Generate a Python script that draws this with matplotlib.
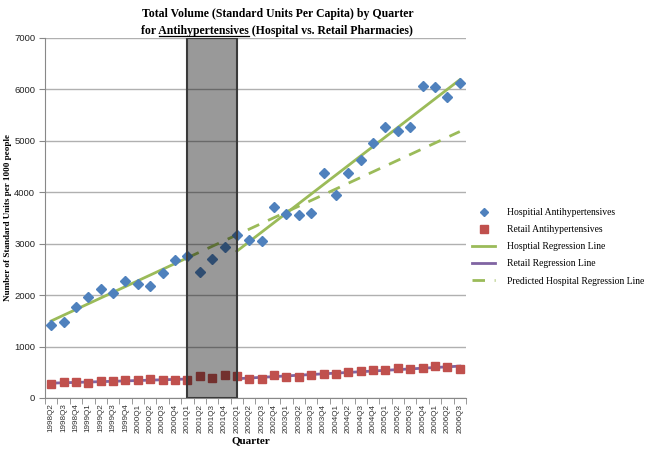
import matplotlib
matplotlib.use("Agg")
import matplotlib.pyplot as plt
from matplotlib.patches import Rectangle
from matplotlib.lines import Line2D
import numpy as np

quarters = ["1998Q2", "1998Q3", "1998Q4",
            "1999Q1", "1999Q2", "1999Q3", "1999Q4",
            "2000Q1", "2000Q2", "2000Q3", "2000Q4",
            "2001Q1", "2001Q2", "2001Q3", "2001Q4",
            "2002Q1", "2002Q2", "2002Q3", "2002Q4",
            "2003Q1", "2003Q2", "2003Q3", "2003Q4",
            "2004Q1", "2004Q2", "2004Q3", "2004Q4",
            "2005Q1", "2005Q2", "2005Q3", "2005Q4",
            "2006Q1", "2006Q2", "2006Q3"]

hospital = [1413, 1477, 1774, 1961, 2116, 2039, 2271, 2226, 2187, 2432, 2684,
            2755, 2445, 2710, 2929,
            3174, 3077, 3058, 3723, 3581, 3567, 3600, 4375, 3955, 4375, 4634,
            4964, 5268, 5196, 5268, 6069, 6043, 5856, 6121]

retail = [265, 303, 316, 284, 335, 323, 348, 355, 368, 342, 348,
          355, 426, 394, 452,
          426, 361, 374, 445, 406, 410, 450, 460, 467, 499, 525,
          551, 544, 590, 570, 583, 616, 603, 564]

# index in quarters: letzter Wert vor / erster Wert nach dem Kasten
pre_end = 11      # 2001Q1
post_start = 15   # 2002Q1

blue = "#4F81BD"
red = "#C0504D"
green = "#9BBB59"
purple = "#8064A2"

x = np.arange(len(quarters))
hosp = np.array(hospital)
ret = np.array(retail)

fig = plt.figure(figsize=(6.48, 4.5), dpi=100)
ax = fig.add_axes([0.0694, 0.1156, 0.6497, 0.80])

# Regressionen
xp = x[:pre_end + 1]
xq = x[post_start:]
hp = np.polyfit(xp, hosp[:pre_end + 1], 1)
hq = np.polyfit(xq, hosp[post_start:], 1)
rp = np.polyfit(xp, ret[:pre_end + 1], 1)
rq = np.polyfit(xq, ret[post_start:], 1)
xpred = x[pre_end:]

ax.plot(xpred, np.polyval(hp, xpred), color=green, lw=2, ls=(0, (4.5, 3.5)), zorder=3)
ax.plot(xp, np.polyval(hp, xp), color=green, lw=2, zorder=3)
ax.plot(xq, np.polyval(hq, xq), color=green, lw=2, zorder=3)
ax.plot(xp, np.polyval(rp, xp), color=purple, lw=2, zorder=3)
ax.plot(xq, np.polyval(rq, xq), color=purple, lw=2, zorder=3)

ax.plot(x, hosp, ls="none", marker="D", ms=5.2, color=blue, mec=blue, zorder=4)
ax.plot(x, ret, ls="none", marker="s", ms=6.2, color=red, mec=red, zorder=4)

# grauer Kasten
ax.add_patch(Rectangle((pre_end, 0), post_start - pre_end, 7000,
                       facecolor=(0, 0, 0, 0.4), edgecolor="#3a3a3a", lw=1.5, zorder=5))

ax.set_xlim(-0.5, len(quarters) - 0.5)
ax.set_ylim(0, 7000)
ax.set_yticks(np.arange(0, 7001, 1000))
ax.yaxis.grid(True, color="#b0b0b0", lw=1)
ax.set_axisbelow(True)
ax.set_xticks(x)
ax.set_xticklabels(quarters, rotation=90, fontsize=5.9, family="Liberation Sans", color="#333333")
ax.set_xticks(np.arange(-0.5, len(quarters), 1), minor=True)
ax.tick_params(axis="x", which="major", length=0, pad=4)
ax.tick_params(axis="x", which="minor", length=4, color="#888888", direction="out")
ax.tick_params(axis="y", length=4, color="#888888", labelsize=6.8, pad=3)
for lab in ax.get_yticklabels():
    lab.set_family("Liberation Sans")
    lab.set_color("#222222")
for s in ["top", "right"]:
    ax.spines[s].set_visible(False)
ax.spines["left"].set_color("#888888")
ax.spines["bottom"].set_color("#888888")

ax.set_xlabel("Quarter", family="Liberation Serif", fontweight="bold", fontsize=8, va="center")
ax.xaxis.set_label_coords(0.49, -0.12)
ax.set_ylabel("Number of Standard Units per 1000 people", family="Liberation Serif",
              fontweight="bold", fontsize=6.6, va="center")
ax.yaxis.set_label_coords(-0.088, 0.5)

# Titel mit unterstrichenem Wort
tfont = dict(family="Liberation Serif", fontweight="bold", fontsize=8.5)
cx = 0.428
fig.text(cx, 0.970, "Total Volume (Standard Units Per Capita) by Quarter", ha="center", va="center", **tfont)
line2 = "for Antihypertensives (Hospital vs. Retail Pharmacies)"
t2 = fig.text(cx, 0.931, line2, ha="center", va="center", **tfont)
fig.canvas.draw()
r = fig.canvas.get_renderer()
def width(s):
    t = fig.text(0, 0, s, **tfont)
    w = t.get_window_extent(r).width
    t.remove()
    return w
bb = t2.get_window_extent(r)
x1 = bb.x0 + width("for Antihypertensives") - width("Antihypertensives")
x2 = bb.x0 + width("for Antihypertensives")
yl = bb.y0 + 1.5
fig.add_artist(Line2D([x1 / 648, x2 / 648], [yl / 450, yl / 450], color="black", lw=0.9))

handles = [
    Line2D([], [], ls="none", marker="D", ms=4.2, color=blue),
    Line2D([], [], ls="none", marker="s", ms=5.2, color=red),
    Line2D([], [], color=green, lw=2),
    Line2D([], [], color=purple, lw=2),
    Line2D([], [], color=green, lw=2, ls=(0, (4.5, 3.5))),
]
labels = ["Hospitial Antihypertensives", "Retail Antihypertensives", "Hosptial Regression Line",
          "Retail Regression Line", "Predicted Hospital Regression Line"]
fig.legend(handles, labels, loc="upper left", bbox_to_anchor=(472 / 648, 1 - 208 / 450), frameon=False,
           prop=dict(family="Liberation Serif", size=6.9), handlelength=2.4, handletextpad=1.3,
           labelspacing=0.85, borderpad=0, borderaxespad=0)

fig.savefig("out.png", dpi=100)
